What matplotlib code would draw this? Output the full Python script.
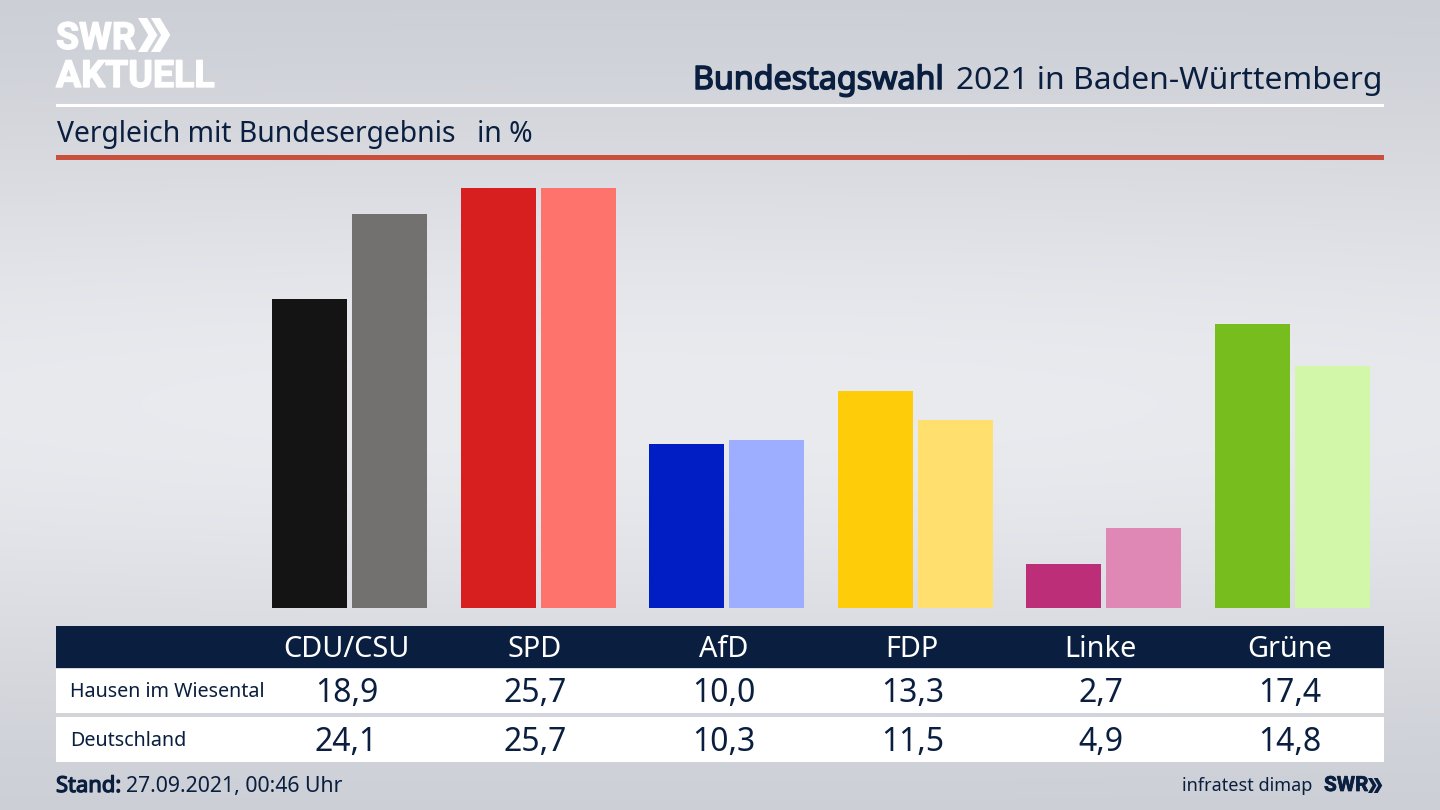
#!/usr/bin/env python3

import matplotlib
matplotlib.use("Agg")
import matplotlib.pyplot as plt
import matplotlib.patheffects as pe
import numpy as np
from matplotlib.patches import Polygon, Rectangle

parties = ["CDU/CSU", "SPD", "AfD", "FDP", "Linke", "Grüne"]
hausen = [18.9, 25.7, 10.0, 13.3, 2.7, 17.4]
deutschland = [24.1, 25.7, 10.3, 11.5, 4.9, 14.8]
colors_hausen = ["#141414", "#d71f1f", "#001ec3", "#ffcc0a", "#bc2e78", "#76bd1d"]
colors_de = ["#72716f", "#ff736d", "#9dadff", "#ffe06e", "#df88b6", "#d2f7a8"]

NAVY = "#0a1f3f"
FONT = "Noto Sans"

plt.rcParams["font.family"] = FONT

fig = plt.figure(figsize=(14.4, 8.1), dpi=100)

# background and all furniture, in pixel coordinates
bg = fig.add_axes([0, 0, 1, 1])
bg.set_xlim(0, 1440)
bg.set_ylim(810, 0)
bg.axis("off")

yy = np.linspace(0, 1, 200)[:, None]
xx = np.linspace(0, 1, 300)[None, :]
shade = np.exp(-((yy - 0.5) / 0.36) ** 2) * (1 - 0.25 * (xx - 0.45) ** 2)
low = np.array([0xc8, 0xcb, 0xd2]) / 255
high = np.array([0xea, 0xeb, 0xef]) / 255
grad = low + (high - low) * shade[:, :, None]
bg.imshow(grad, extent=(0, 1440, 810, 0), aspect="auto", interpolation="bilinear")


def box(x0, y0, x1, y1, color):
    bg.add_patch(Rectangle((x0, y0), x1 - x0, y1 - y0, facecolor=color, edgecolor="none"))


def chevrons(x, y, h, color):
    w = h * 0.3
    t = h * 0.27
    for dx in (0, h * 0.38):
        bg.add_patch(Polygon([(x + dx, y), (x + dx + t, y), (x + dx + t + w, y + h / 2),
                              (x + dx + t, y + h), (x + dx, y + h), (x + dx + w, y + h / 2)],
                             facecolor=color, edgecolor="none"))


def bold(txt, color, width=1.0):
    # fake a heavier weight, the regular face has no bold here
    txt.set_path_effects([pe.withStroke(linewidth=width, foreground=color)])


# logo
bold(bg.text(56, 49, "SWR", color="white", fontsize=27, fontweight="bold", family="Roboto", va="baseline"), "white")
chevrons(138, 18, 34, "white")
bold(bg.text(56, 87, "AKTUELL", color="white", fontsize=27, fontweight="bold", family="Roboto", va="baseline"), "white")

# header
bg.text(1383, 89, "2021 in Baden-Württemberg", color=NAVY, fontsize=22.9, ha="right", va="baseline")
bold(bg.text(944, 89, "Bundestagswahl", color=NAVY, fontsize=23.2, ha="right", va="baseline"), NAVY, 1.1)
box(56, 104, 1384, 107, "white")
bg.text(57, 142, "Vergleich mit Bundesergebnis", color=NAVY, fontsize=20.4, va="baseline")
bg.text(477, 142, "in %", color=NAVY, fontsize=20.4, va="baseline")
box(56, 155, 1384, 160, "#c8503c")

# table
box(56, 626, 1384, 668, NAVY)
box(56, 669, 1384, 713, "white")
box(56, 717, 1384, 762, "white")
bg.text(70, 697, "Hausen im Wiesental", color=NAVY, fontsize=14.2, va="baseline")
bg.text(70, 746, "Deutschland", color=NAVY, fontsize=14.2, va="baseline")

# footer
bold(bg.text(56, 792, "Stand:", color=NAVY, fontsize=15.8, va="baseline"), NAVY, 0.9)
bg.text(126, 792, "27.09.2021, 00:46 Uhr", color=NAVY, fontsize=15.3, va="baseline")
bg.text(1312, 791, "infratest dimap", color=NAVY, fontsize=13, ha="right", va="baseline")
bold(bg.text(1324, 791, "SWR", color=NAVY, fontsize=15, fontweight="bold", family="Roboto", va="baseline"), NAVY, 0.5)
chevrons(1368, 778, 15, NAVY)

# bars
ax = fig.add_axes([255.2 / 1440, (810 - 608) / 810, (1386.8 - 255.2) / 1440, 448 / 810])
ax.patch.set_alpha(0)
ax.axis("off")
x = np.arange(len(parties))
ax.bar(x - 0.212, hausen, width=0.398, color=colors_hausen)
ax.bar(x + 0.212, deutschland, width=0.398, color=colors_de)
ax.set_xlim(-0.5, 5.5)
ax.set_ylim(0, 27.4)

# table labels follow the bar groups
for i, party in enumerate(parties):
    px = 346.5 + 188.6 * i
    bg.text(px, 657, party, color="white", fontsize=20.8, ha="center", va="baseline")
    bg.text(px, 702, f"{hausen[i]:.1f}".replace(".", ","), color=NAVY, fontsize=23, ha="center", va="baseline")
    bg.text(px, 751, f"{deutschland[i]:.1f}".replace(".", ","), color=NAVY, fontsize=23, ha="center", va="baseline")

fig.savefig("out.png", dpi=100)
